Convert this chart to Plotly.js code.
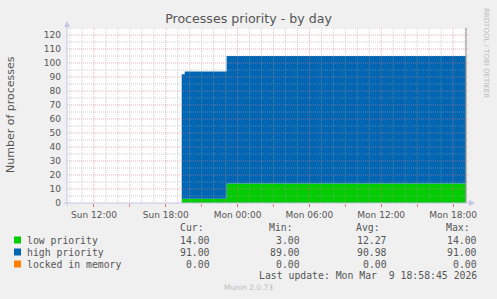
<!DOCTYPE html>
<html><head><meta charset="utf-8">
<script src="https://cdn.plot.ly/plotly-3.0.1.min.js"></script>
<style>html,body{margin:0;padding:0;background:#F0F0F0;overflow:hidden}</style>
</head><body>
<div id="chart" style="width:497px;height:299px"></div>
<script>
// ---- data ----
const times = ['2026-03-08 19:20','2026-03-08 19:35','2026-03-08 23:05','2026-03-09 19:05'];
const lowPriority = [3, 3, 14, 14];
const highPriority = [89, 91, 91, 91];
const lockedInMemory = [0, 0, 0, 0];
const seriesNames = ['low priority', 'high priority', 'locked in memory'];
const seriesColors = ['#00CC00', '#0066B3', '#FF8000'];
const statHeaders = ['Cur:', 'Min:', 'Avg:', 'Max:'];
const statLow = ['14.00', '3.00', '12.27', '14.00'];
const statHigh = ['91.00', '89.00', '90.98', '91.00'];
const statLocked = ['0.00', '0.00', '0.00', '0.00'];
const xTickVals = ['2026-03-08 12:00','2026-03-08 18:00','2026-03-09 00:00','2026-03-09 06:00','2026-03-09 12:00','2026-03-09 18:00'];
const xTickText = ['Sun 12:00','Sun 18:00','Mon 00:00','Mon 06:00','Mon 12:00','Mon 18:00'];
const yTickVals = [0,10,20,30,40,50,60,70,80,90,100,110,120];
const xRange = ['2026-03-08 09:45', '2026-03-09 19:05'];
const yRange = [0, 125];
const titleText = 'Processes priority - by day';
const yTitleText = 'Number of processes';
const lastUpdate = 'Last update: Mon Mar  9 18:58:45 2026';

// ---- layout helpers (pixel -> paper) ----
const L = 67, R = 466, T = 28, B = 203;
const px = v => (v - L) / (R - L);
const py = v => (B - v) / (B - T);
const fmt = ms => new Date(ms).toISOString().slice(0, 19).replace('T', ' ');

const shapes = [];
const minorGrid = 'rgba(160,160,160,0.5)';
const majorGrid = 'rgba(215,120,120,0.55)';
// vertical grid each hour, major every 6 hours
const hStart = Date.UTC(2026, 2, 8, 10), hEnd = Date.UTC(2026, 2, 9, 19);
for (let t = hStart; t <= hEnd; t += 3600000) {
  const h = new Date(t).getUTCHours();
  shapes.push({type:'line', xref:'x', yref:'paper', x0:fmt(t), x1:fmt(t), y0:0, y1:1,
    line:{color: h % 6 === 0 ? majorGrid : minorGrid, width:1, dash:'1px,1px'}, layer:'above'});
}
// horizontal grid every 5, major every 10
for (let v = 5; v <= 125; v += 5) {
  shapes.push({type:'line', xref:'paper', yref:'y', x0:0, x1:px(469), y0:v, y1:v,
    line:{color: v % 10 === 0 ? majorGrid : minorGrid, width:1, dash:'1px,1px'}, layer:'above'});
}
// right border
shapes.push({type:'line', xref:'paper', yref:'paper', x0:1, x1:1, y0:0, y1:1,
  line:{color:'#909090', width:1}, layer:'above'});
// axis lines + arrows
const axisCol = '#c4c4e4';
shapes.push({type:'line', xref:'paper', yref:'paper', x0:0, x1:0, y0:py(206), y1:py(24), line:{color:axisCol, width:1}, layer:'above'});
shapes.push({type:'line', xref:'paper', yref:'paper', x0:px(64), x1:px(470), y0:0, y1:0, line:{color:axisCol, width:1}, layer:'above'});
shapes.push({type:'path', xref:'paper', yref:'paper',
  path:`M ${px(64)} ${py(27)} L ${px(70)} ${py(27)} L ${px(67)} ${py(21)} Z`, fillcolor:axisCol, line:{width:0}, layer:'above'});
shapes.push({type:'path', xref:'paper', yref:'paper',
  path:`M ${px(469)} ${py(200)} L ${px(469)} ${py(206)} L ${px(475)} ${py(203)} Z`, fillcolor:axisCol, line:{width:0}, layer:'above'});

// legend squares
const rowY = [240, 252, 264];
seriesColors.forEach((c, i) => {
  shapes.push({type:'rect', xref:'paper', yref:'paper', x0:px(14), x1:px(21), y0:py(rowY[i]+3.5), y1:py(rowY[i]-3.5),
    fillcolor:c, line:{width:0}});
});

const mono = {family:'DejaVu Sans Mono', size:9.8, color:'#555'};
const annotations = [];
const addText = (text, x, y, anchor, font) => annotations.push({text, xref:'paper', yref:'paper',
  x:px(x), y:py(y), xanchor:anchor, yanchor:'middle', showarrow:false, font, borderpad:0});
seriesNames.forEach((n, i) => addText(n, 26, rowY[i], 'left', mono));
const headRight = [205, 294, 381, 471];
const valRight = [211, 301, 388, 478];
statHeaders.forEach((h, j) => addText(h, headRight[j], 227, 'right', mono));
[statLow, statHigh, statLocked].forEach((row, i) => row.forEach((v, j) => addText(v, valRight[j], rowY[i], 'right', mono)));
addText(lastUpdate, 478, 275, 'right', mono);
addText('Munin 2.0.73', 248, 287, 'center', {family:'DejaVu Sans', size:7.5, color:'#bbbbbb'});
annotations.push({text:'RRDTOOL / TOBI OETIKER', xref:'paper', yref:'paper', x:px(486), y:py(53),
  xanchor:'center', yanchor:'middle', textangle:90, showarrow:false, font:{family:'DejaVu Sans', size:7, color:'#bbbbbb'}});
annotations.push({text:yTitleText, xref:'paper', yref:'paper', x:px(10), y:py(115),
  xanchor:'center', yanchor:'middle', textangle:-90, showarrow:false, font:{family:'DejaVu Sans', size:11, color:'#555'}});

const traces = [
  {x: times, y: lowPriority, name: seriesNames[0], fillcolor: seriesColors[0]},
  {x: times, y: highPriority, name: seriesNames[1], fillcolor: seriesColors[1]},
  {x: times, y: lockedInMemory, name: seriesNames[2], fillcolor: seriesColors[2]}
].map(t => Object.assign(t, {type:'scatter', mode:'lines', stackgroup:'one',
  line:{shape:'hv', width:0, color:t.fillcolor}, hoverinfo:'skip'}));

const layout = {
  width: 497, height: 299,
  margin: {l: L, r: 497 - R, t: T, b: 299 - B, pad: 0},
  paper_bgcolor: '#F0F0F0', plot_bgcolor: '#FFFFFF',
  showlegend: false,
  title: {text: titleText, x: 0.5, xref: 'container', xanchor: 'center', y: 1 - 19/299, yref: 'container', yanchor: 'middle',
    font: {family: 'DejaVu Sans', size: 12.6, color: '#555'}},
  font: {family: 'DejaVu Sans', size: 9, color: '#555'},
  xaxis: {type: 'date', range: xRange, tickvals: xTickVals, ticktext: xTickText,
    showgrid: false, zeroline: false, showline: false,
    ticks: 'outside', ticklen: 3, tickcolor: 'rgba(215,110,110,0.8)', tickwidth: 1,
    minor: {dtick: 3*3600000, ticks: 'outside', ticklen: 3, tickcolor: 'rgba(215,110,110,0.8)', showgrid: false},
    tickfont: {family: 'DejaVu Sans', size: 9, color: '#555'}, fixedrange: true},
  yaxis: {range: yRange, tickvals: yTickVals, showgrid: false, zeroline: false, showline: false,
    ticks: '', ticklabelstandoff: 5, tickfont: {family: 'DejaVu Sans', size: 9, color: '#555'},
    fixedrange: true},
  shapes, annotations
};
Plotly.newPlot('chart', traces, layout, {displayModeBar: false, staticPlot: true});
</script>
</body></html>
